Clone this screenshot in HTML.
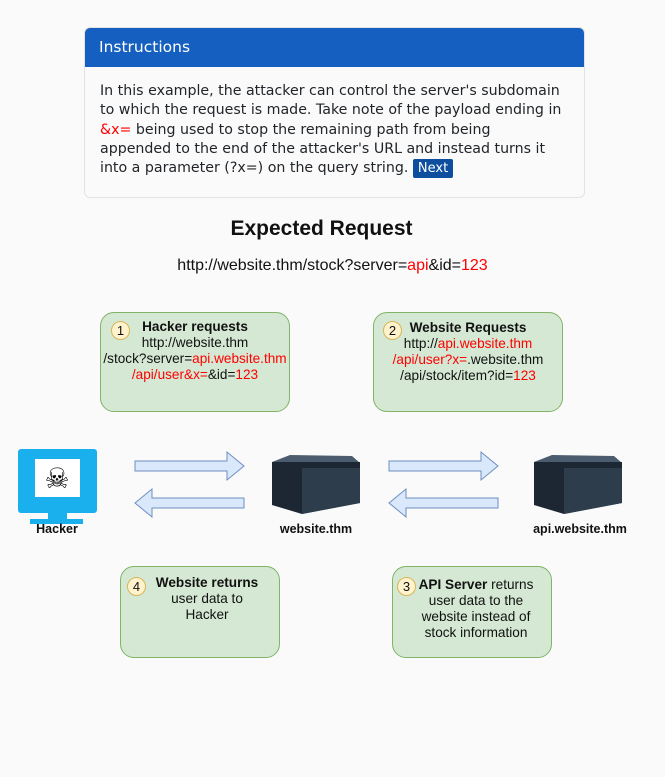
<!DOCTYPE html><html><head><style>
body{margin:0;width:665px;height:777px;background:#fafafa;font-family:"Liberation Sans",sans-serif;position:relative;overflow:hidden}
.a{position:absolute}
.card{left:84px;top:27px;width:499px;height:169px;border:1px solid #e3e3e3;border-radius:6px;background:#fafafa;overflow:hidden}
.hd{height:39px;background:#145fbf;color:#fff;font-family:"DejaVu Sans",sans-serif;font-size:15.5px;line-height:39px;padding-left:14px}
.bd{width:468px;padding:15px 0 0 15px;font-family:"DejaVu Sans",sans-serif;font-size:14.2px;line-height:19.3px;color:#212529}
.r{color:#f00}
.btn{background:#0d4e9e;color:#fff;font-size:13px;padding:2px 5px;border-radius:2px}
.box{background:#d5e8d4;border:1px solid #82b366;border-radius:14px;text-align:center;font-size:13.6px;line-height:16px;color:#111}
.n{position:absolute;width:17px;height:17px;border-radius:50%;background:#fff2cc;border:1px solid #d6b656;font-size:13px;line-height:17px;text-align:center}
.lbl{font-size:12.5px;font-weight:bold;color:#111;text-align:center}
</style></head><body>
<div class="a card"><div class="hd">Instructions</div>
<div class="bd">In this example, the attacker can control the server's subdomain to which the request is made. Take note of the payload ending in <span class="r">&amp;x=</span> being used to stop the remaining path from being<br>appended to the end of the attacker's URL and instead turns it<br>into a parameter (?x=) on the query string. <span class="btn">Next</span></div></div>
<div class="a" style="left:0;width:643px;top:217px;text-align:center;font-size:21px;font-weight:bold;color:#111">Expected Request</div>
<div class="a" style="left:0;width:665px;top:257px;text-align:center;font-size:16px;color:#111">http://website.thm/stock?server=<span class="r">api</span>&amp;id=<span class="r">123</span></div>

<div class="a box" style="left:100px;top:312px;width:188px;height:98px"><div class="n" style="left:10px;top:8px">1</div><div style="margin-top:6px"><b>Hacker requests</b><br>http://website.thm<br>/stock?server=<span class="r">api.website.thm</span><br><span class="r">/api/user&amp;x=</span>&amp;id=<span class="r">123</span></div></div>
<div class="a box" style="left:373px;top:312px;width:188px;height:98px"><div class="n" style="left:9px;top:8px">2</div><div style="margin-top:7px"><b>Website Requests</b><br>http://<span class="r">api.website.thm</span><br><span class="r">/api/user?x=</span>.website.thm<br>/api/stock/item?id=<span class="r">123</span></div></div>
<div class="a box" style="left:120px;top:566px;width:158px;height:90px"><div class="n" style="left:6px;top:10px">4</div><div style="margin-top:8px;padding-left:14px"><b>Website returns</b><br>user data to<br>Hacker</div></div>
<div class="a box" style="left:392px;top:566px;width:158px;height:90px"><div class="n" style="left:4px;top:10px">3</div><div style="margin-top:10px;padding-left:8px"><b>API Server</b> returns<br>user data to the<br>website instead of<br>stock information</div></div>

<svg class="a" style="left:0;top:0" width="665" height="777">
<g fill="#dae8fc" stroke="#6c8ebf">
<path d="M135 461H227V452L244 466L227 480V471H135Z"/>
<path d="M244 498H152V489L135 503L152 517V508H244Z"/>
<path d="M389 461H481V452L498 466L481 480V471H389Z"/>
<path d="M498 498H406V489L389 503L406 517V508H498Z"/>
</g>
<g>
<rect x="18" y="449" width="79" height="64" rx="3" fill="#1ab0ee"/>
<rect x="35" y="459" width="45" height="38" fill="#fff"/>
<text x="57" y="488" font-size="28" text-anchor="middle">☠</text>
<rect x="48" y="513" width="19" height="8" fill="#1ab0ee"/>
<rect x="30" y="519" width="53" height="5" fill="#1ab0ee"/>
</g>
<g id="s"><path d="M272 462L290 455L352 456L360 463Z" fill="#4a5c6e"/><path d="M272 462H360V503L302 514L272 505Z" fill="#1c2733"/><path d="M302 468H360V503L302 514Z" fill="#2e3d4c"/></g>
<use href="#s" x="262"/>
</svg>
<div class="a lbl" style="left:17px;width:80px;top:522px">Hacker</div>
<div class="a lbl" style="left:266px;width:100px;top:522px">website.thm</div>
<div class="a lbl" style="left:520px;width:120px;top:522px">api.website.thm</div>
</body></html>
